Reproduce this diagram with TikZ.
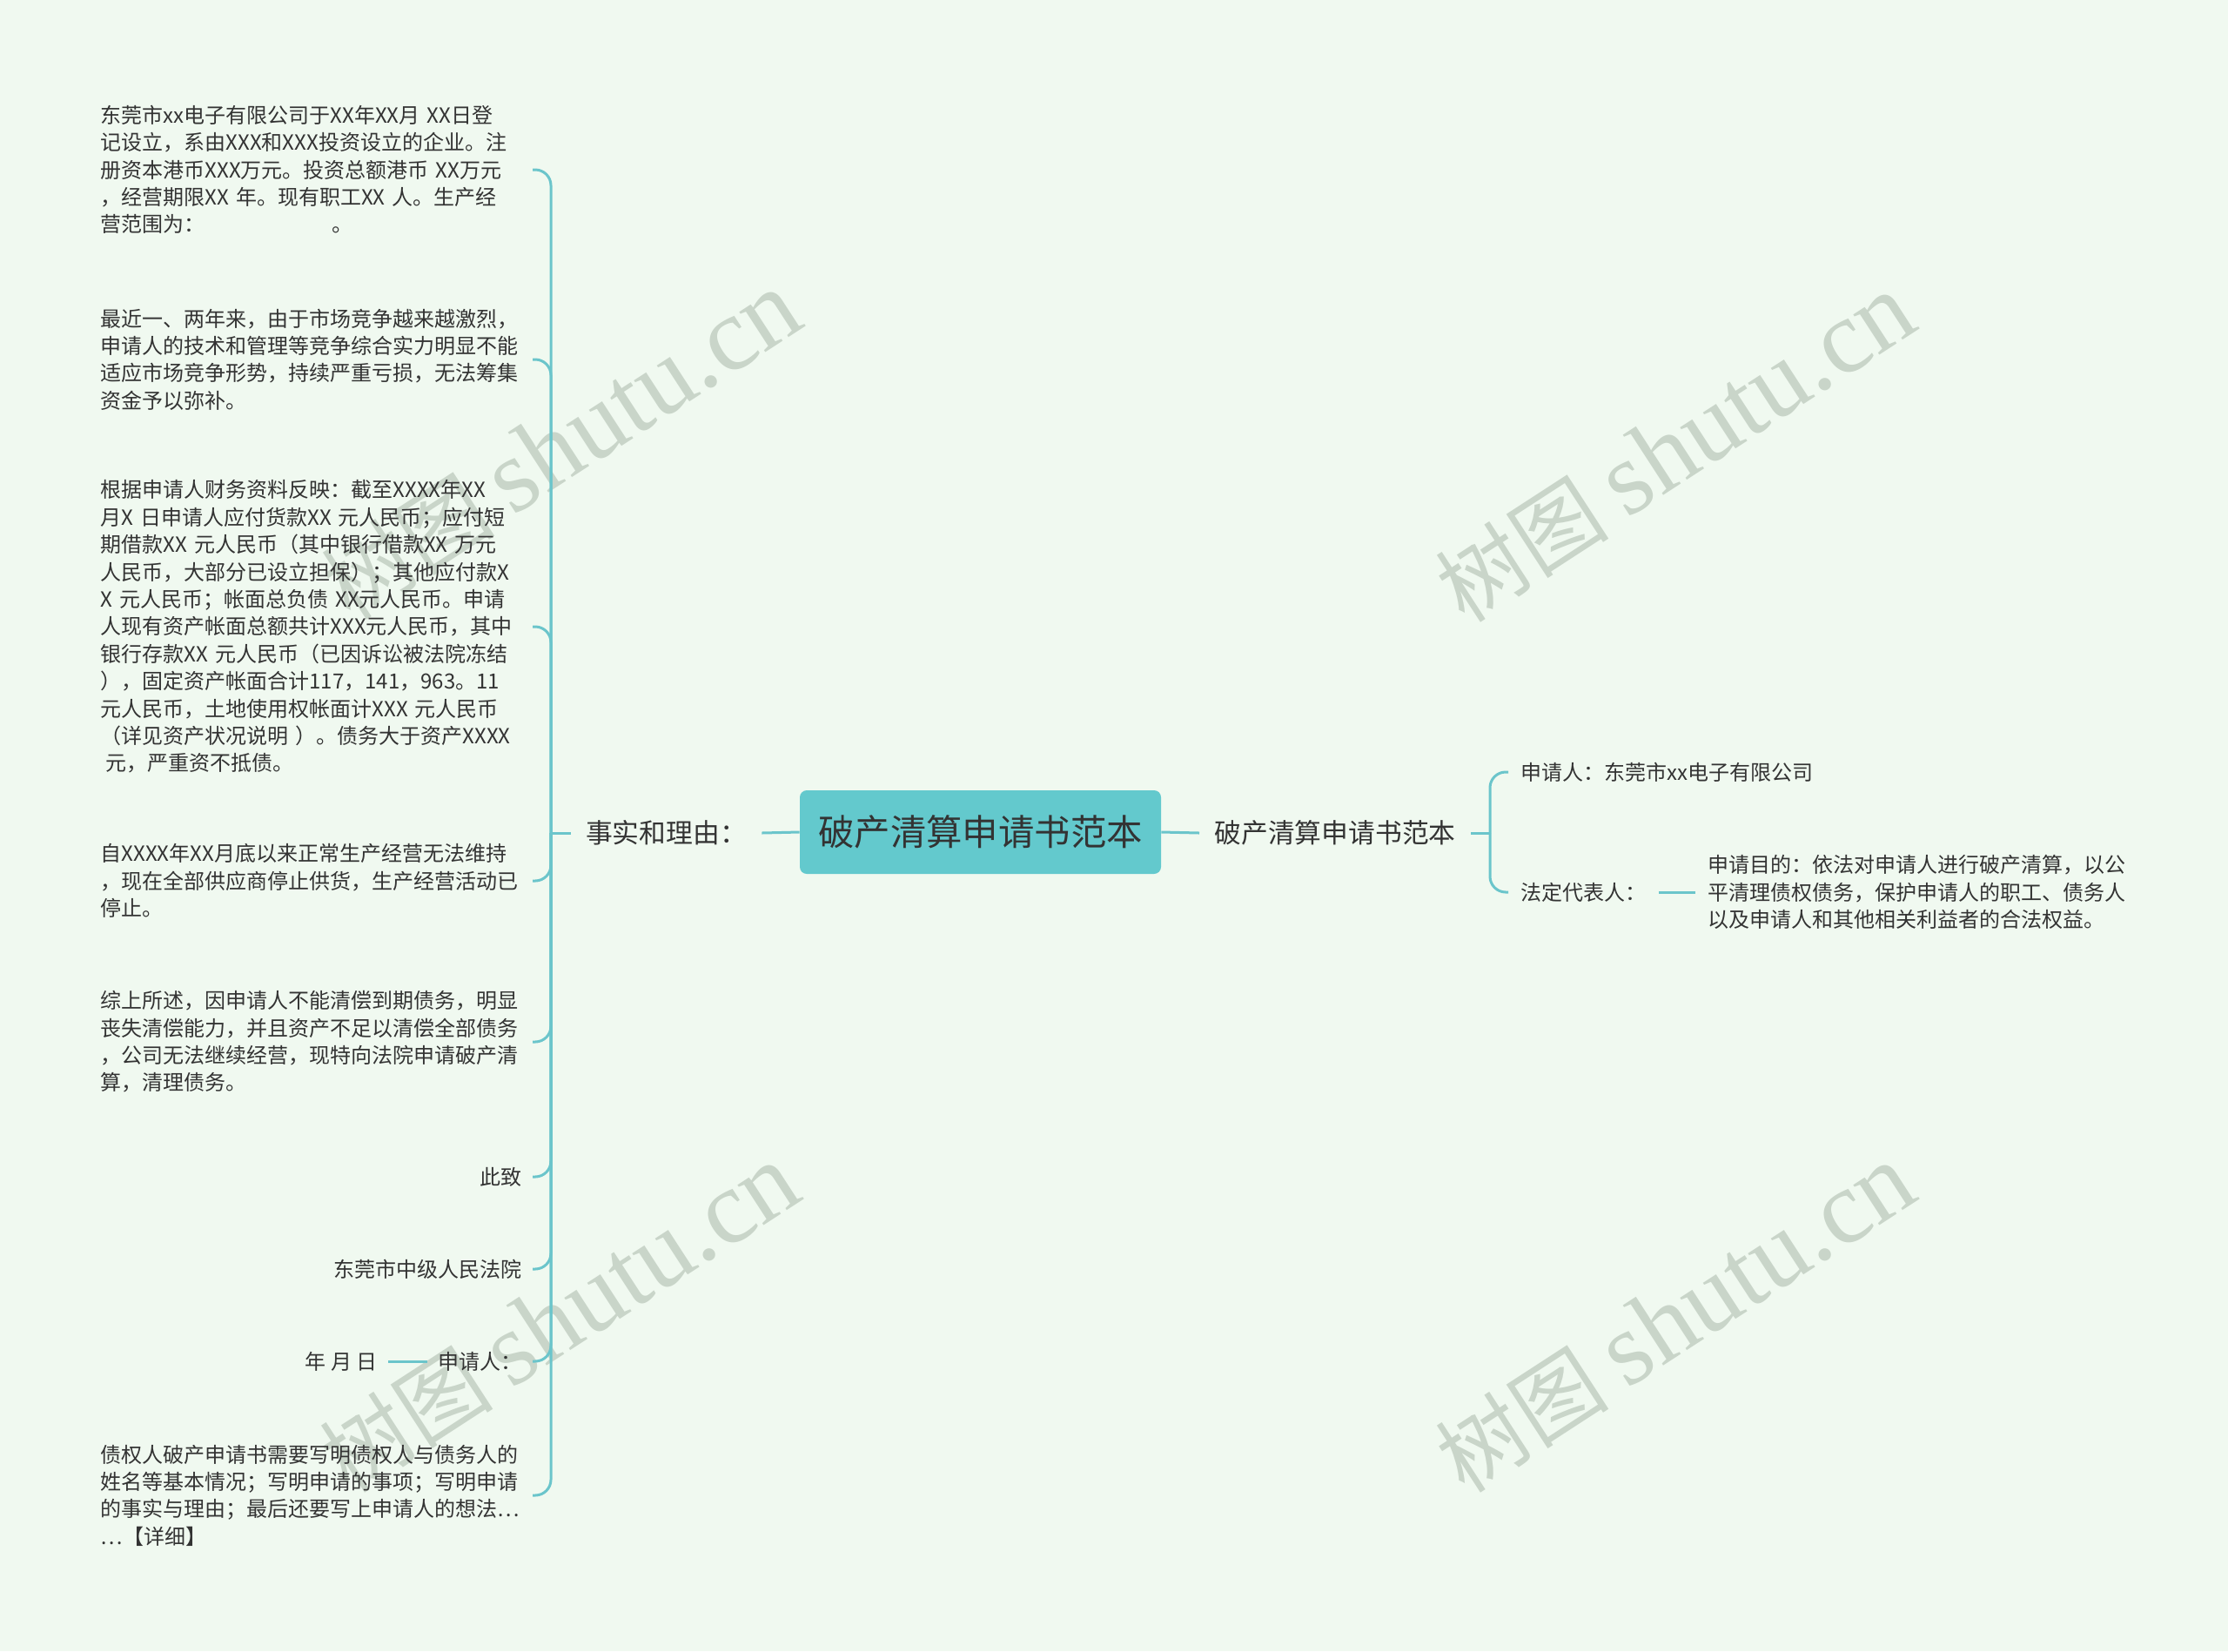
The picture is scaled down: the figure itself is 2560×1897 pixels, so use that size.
\documentclass[tikz,border=0pt]{standalone}
\usepackage{fontspec}
\setmainfont{Noto Sans CJK SC}
\newfontfamily\wmfont{Liberation Serif}
\definecolor{bgc}{HTML}{F0F9F0}
\definecolor{lnc}{HTML}{6BC5CB}
\definecolor{rootc}{HTML}{63C9CD}
\definecolor{txt}{HTML}{333333}
\definecolor{wmc}{HTML}{C9D5C9}
\tikzset{
    RT/.style ={rectangle, rounded corners=4pt, fill=rootc, minimum width=207.5pt, minimum height=48pt, font=\fontsize{20.7}{24}\selectfont, text=txt},
    BR/.style ={inner xsep=8.5pt, inner ysep=4pt, font=\fontsize{15.4}{18}\selectfont, text=txt},
    LF/.style ={inner xsep=6pt, inner ysep=0pt, font=\fontsize{12}{15.7}\selectfont, text=txt, align=left},
    LL/.style ={LF, anchor=east},
    LW/.style ={LF, text width=242pt},
    LR/.style ={LF, inner xsep=7pt, anchor=west},
    CN/.style ={draw=lnc, line width=1.5pt, rounded corners=9pt},
    WM/.style ={rotate=33, text=wmc, font=\fontsize{50}{60}\selectfont}}

\begin{document}
\begin{tikzpicture}[x=0.5pt,y=-0.5pt]
        \fill[bgc] (0,0) rectangle (2560,1897);
        \useasboundingbox (0,0) rectangle (2560,1897);
        % watermarks
        \node[WM] (wm1) at (645,512) {树图 {\wmfont\fontsize{60}{60}\selectfont shutu.cn}};
        \node[WM] (wm2) at (1925,515) {树图 {\wmfont\fontsize{60}{60}\selectfont shutu.cn}};
        \node[WM] (wm3) at (643,1515) {树图 {\wmfont\fontsize{60}{60}\selectfont shutu.cn}};
        \node[WM] (wm4) at (1925,1515) {树图 {\wmfont\fontsize{60}{60}\selectfont shutu.cn}};
        % centre and branches
        \node[RT] (root) at (1126.5,956) {破产清算申请书范本};
        \node[BR] (facts) at (765.5,957) {事实和理由：};
        \node[BR] (title) at (1534,957) {破产清算申请书范本};
        \coordinate (lb) at (633,957);
        \coordinate (rb) at (1712,957);
        % left leaves
        \node[LL,LW] (l1) at (612,195) {东莞市xx电子有限公司于XX年XX月 XX日登\\记设立，系由XXX和XXX投资设立的企业。注\\册资本港币XXX万元。投资总额港币 XX万元\\，经营期限XX 年。现有职工XX 人。生产经\\营范围为：\hspace*{73pt}。};
        \node[LL,LW] (l2) at (612,413) {最近一、两年来，由于市场竞争越来越激烈，\\申请人的技术和管理等竞争综合实力明显不能\\适应市场竞争形势，持续严重亏损，无法筹集\\资金予以弥补。};
        \node[LL,LW] (l3) at (612,720) {根据申请人财务资料反映：截至XXXX年XX\\月X 日申请人应付货款XX 元人民币；应付短\\期借款XX 元人民币（其中银行借款XX 万元\\人民币，大部分已设立担保）；其他应付款X\\X 元人民币；帐面总负债 XX元人民币。申请\\人现有资产帐面总额共计XXX元人民币，其中\\银行存款XX 元人民币（已因诉讼被法院冻结\\），固定资产帐面合计117，141，963。11\\元人民币，土地使用权帐面计XXX 元人民币\\（详见资产状况说明 ）。债务大于资产XXXX\\\hspace*{3pt}元，严重资不抵债。};
        \node[LL,LW] (l4) at (612,1012) {自XXXX年XX月底以来正常生产经营无法维持\\，现在全部供应商停止供货，生产经营活动已\\停止。};
        \node[LL,LW] (l5) at (612,1197) {综上所述，因申请人不能清偿到期债务，明显\\丧失清偿能力，并且资产不足以清偿全部债务\\，公司无法继续经营，现特向法院申请破产清\\算，清理债务。};
        \node[LL] (l6) at (612,1352) {此致};
        \node[LL] (l7) at (612,1458) {东莞市中级人民法院};
        \node[LL] (l8) at (612,1564) {申请人：};
        \node[LL] (date) at (446,1564) {年 月 日};
        \node[LL,LW] (l9) at (612,1718) {债权人破产申请书需要写明债权人与债务人的\\姓名等基本情况；写明申请的事项；写明申请\\的事实与理由；最后还要写上申请人的想法…\\…【详细】};
        % right leaves
        \node[LR] (app) at (1733,887) {申请人：东莞市xx电子有限公司};
        \node[LR] (rep) at (1733,1025) {法定代表人：};
        \node[LR] (aim) at (1948,1025) {申请目的：依法对申请人进行破产清算，以公\\平清理债权债务，保护申请人的职工、债务人\\以及申请人和其他相关利益者的合法权益。};
        % connectors
        \draw[CN] (root.west) -- (facts.east);
        \draw[CN] (root.east) -- (title.west);
        \draw[CN] (facts.west) -- (lb);
        \foreach \n in {l1,l2,l3,l4,l5,l6,l7,l8,l9}
            \draw[CN] (\n.east) -| (lb);
        \draw[CN] (date.east) -- (l8.west);
        \draw[CN] (title.east) -- (rb);
        \draw[CN] (app.west) -| (rb);
        \draw[CN] (rep.west) -| (rb);
        \draw[CN] (rep.east) -- (aim.west);
    \end{tikzpicture}
\end{document}
